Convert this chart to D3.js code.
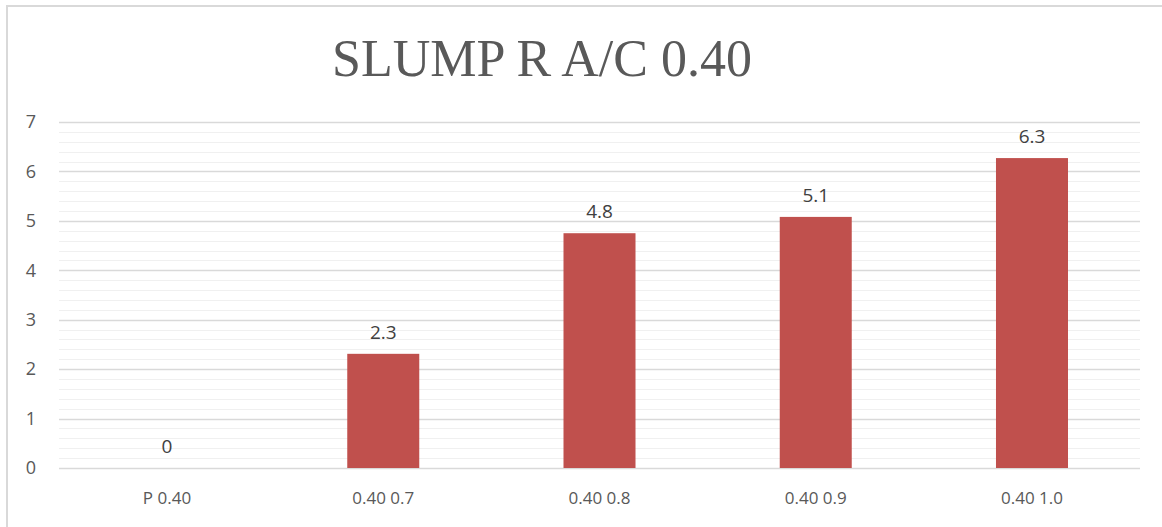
<!DOCTYPE html>
<html>
<head>
<meta charset="utf-8">
<script src="https://cdn.jsdelivr.net/npm/d3@7"></script>
<style>
  body { margin: 0; background: #fff; }
  svg { display: block; }
</style>
</head>
<body>
<svg id="chart" width="1162" height="527"></svg>
<script>
let categories = ['P 0.40', '0.40 0.7', '0.40 0.8', '0.40 0.9', '0.40 1.0']
let slump = [0, 2.31, 4.75, 5.08, 6.27]
let yTicks = [0, 1, 2, 3, 4, 5, 6, 7]

const svg = d3.select('#chart')
const margin = { top: 122, left: 59, right: 22, bottom: 59 }
const width = 1162
const height = 527

// chart border (only top and left show in the picture)
svg.append('rect')
  .attr('x', 7)
  .attr('y', 6)
  .attr('width', 1162)
  .attr('height', 540)
  .style('fill', 'none')
  .style('stroke', '#d9d9d9')
  .style('stroke-width', 2)

const x = d3.scaleBand()
  .domain(categories)
  .range([margin.left, width - margin.right])
  .paddingInner(0.667)
  .paddingOuter(0.333)

const y = d3.scaleLinear()
  .domain([0, 7])
  .range([height - margin.bottom, margin.top])

// minor gridlines every 0.2
const minor = d3.range(0, 7.001, 0.2).filter(v => Math.abs(v - Math.round(v)) > 0.01)
svg.append('g')
  .selectAll('line')
  .data(minor)
  .join('line')
  .attr('x1', margin.left)
  .attr('x2', width - margin.right)
  .attr('y1', d => Math.round(y(d)) + 0.5)
  .attr('y2', d => Math.round(y(d)) + 0.5)
  .style('stroke', '#f0f0f0')

// major gridlines
svg.append('g')
  .selectAll('line')
  .data(yTicks)
  .join('line')
  .attr('x1', margin.left)
  .attr('x2', width - margin.right)
  .attr('y1', d => Math.round(y(d)) + 0.5)
  .attr('y2', d => Math.round(y(d)) + 0.5)
  .style('stroke', '#d9d9d9')
  .style('stroke-width', 1.3)

// y axis labels
const yAxis = svg.append('g')
  .attr('transform', `translate(${margin.left - 23},0)`)
  .call(d3.axisLeft(y).tickValues(yTicks).tickFormat(d3.format('d')).tickSize(0).tickPadding(0))
yAxis.select('.domain').remove()
yAxis.selectAll('text')
  .style('font-family', 'Open Sans, sans-serif')
  .style('font-size', '18px')
  .style('fill', '#595959')

// x axis labels
const xAxis = svg.append('g')
  .attr('transform', `translate(0,${height - margin.bottom + 24})`)
  .call(d3.axisBottom(x).tickSize(0).tickPadding(0))
xAxis.select('.domain').remove()
xAxis.selectAll('text')
  .style('font-family', 'Open Sans, sans-serif')
  .style('font-size', '17px')
  .style('fill', '#595959')

// bars
svg.append('g')
  .selectAll('rect')
  .data(slump)
  .join('rect')
  .attr('x', (d, i) => x(categories[i]))
  .attr('y', d => y(d))
  .attr('width', x.bandwidth())
  .attr('height', d => y(0) - y(d))
  .style('fill', '#c0504d')

// data labels
const fmt = d3.format('.1f')
svg.append('g')
  .selectAll('text')
  .data(slump)
  .join('text')
  .attr('x', (d, i) => x(categories[i]) + x.bandwidth() / 2)
  .attr('y', d => y(d) - 15)
  .attr('text-anchor', 'middle')
  .text(d => d === 0 ? '0' : fmt(d))
  .style('font-family', 'Open Sans, sans-serif')
  .style('font-size', '19px')
  .style('fill', '#404040')

// title
svg.append('text')
  .attr('x', 542)
  .attr('y', 76)
  .attr('text-anchor', 'middle')
  .text('SLUMP R A/C 0.40')
  .style('font-family', 'Liberation Serif, serif')
  .style('font-size', '52px')
  .style('fill', '#595959')
</script>
</body>
</html>
